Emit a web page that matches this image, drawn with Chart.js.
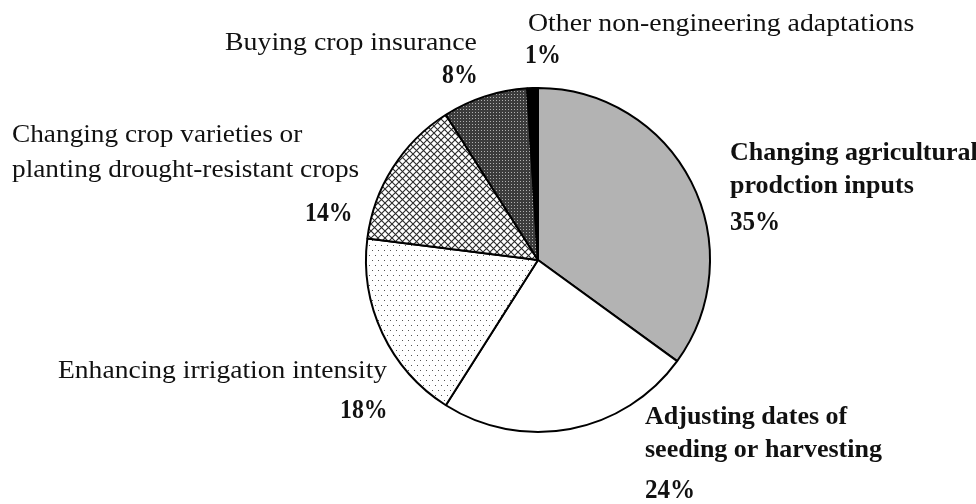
<!DOCTYPE html>
<html>
<head>
<meta charset="utf-8">
<script src="https://cdn.jsdelivr.net/npm/chart.js@4.4.1/dist/chart.umd.min.js"></script>
<style>
html,body{margin:0;padding:0;background:#fff;}
canvas{display:block;}
#probe{position:absolute;left:-9999px;top:0;font-family:"Liberation Serif";}
</style>
</head>
<body>
<span id="probe">Ag <b>Ag</b></span>
<canvas id="c" width="976" height="504"></canvas>
<script>
// ---- data ----
const categories = [
  'Changing agricultural prodction inputs',
  'Adjusting dates of seeding or harvesting',
  'Enhancing irrigation intensity',
  'Changing crop varieties or planting drought-resistant crops',
  'Buying crop insurance',
  'Other non-engineering adaptations'
];
const labelLines = [
  ['Changing agricultural', 'prodction inputs'],
  ['Adjusting dates of', 'seeding or harvesting'],
  ['Enhancing irrigation intensity'],
  ['Changing crop varieties or', 'planting drought-resistant crops'],
  ['Buying crop insurance'],
  ['Other non-engineering adaptations']
];
const values = [35, 24, 18, 14, 8, 1];

// ---- styling / layout (not data) ----
const FAM = '"Liberation Serif", "Times New Roman", Times, serif';
const labelLayout = [
  {x: 730, y: 160, lh: 33, px: 730, py: 230, font: 'bold 26px ' + FAM, sx: 1.0, pfont: 'bold 27px ' + FAM, psx: 0.93},
  {x: 645, y: 424, lh: 33, px: 645, py: 498, font: 'bold 26px ' + FAM, sx: 1.0, pfont: 'bold 27px ' + FAM, psx: 0.93},
  {x: 58,  y: 378, lh: 33, px: 340, py: 418, font: '26px ' + FAM, sx: 1.06, pfont: 'bold 28px ' + FAM, psx: 0.85},
  {x: 12,  y: 142, lh: 35, px: 305, py: 221, font: '26px ' + FAM, sx: 1.05, pfont: 'bold 28px ' + FAM, psx: 0.85},
  {x: 225, y: 50,  lh: 33, px: 442, py: 83,  font: '26px ' + FAM, sx: 1.07, pfont: 'bold 28px ' + FAM, psx: 0.85},
  {x: 528, y: 31,  lh: 33, px: 525, py: 63,  font: '26px ' + FAM, sx: 1.07, pfont: 'bold 28px ' + FAM, psx: 0.85}
];

function makePattern(w, h, draw) {
  const c = document.createElement('canvas');
  c.width = w; c.height = h;
  const g = c.getContext('2d');
  draw(g, w, h);
  return document.getElementById('c').getContext('2d').createPattern(c, 'repeat');
}
const dotPattern = makePattern(6, 10, (g, w, h) => {
  g.fillStyle = '#fff'; g.fillRect(0, 0, w, h);
  g.fillStyle = '#555';
  g.fillRect(0, 0, 1, 1);
  g.fillRect(3, 5, 1, 1);
});
const crossPattern = makePattern(7, 7, (g, w, h) => {
  g.fillStyle = '#fff'; g.fillRect(0, 0, w, h);
  g.strokeStyle = '#2a2a2a'; g.lineWidth = 1.1;
  g.beginPath();
  g.moveTo(-1, -1); g.lineTo(w + 1, h + 1);
  g.moveTo(w + 1, -1); g.lineTo(-1, h + 1);
  g.stroke();
});
const darkPattern = makePattern(3, 3, (g, w, h) => {
  g.fillStyle = '#3c3c3c'; g.fillRect(0, 0, w, h);
  g.fillStyle = '#b0b0b0'; g.fillRect(1, 1, 1, 1);
});
const fills = ['#b3b3b3', '#ffffff', dotPattern, crossPattern, darkPattern, '#000000'];

function drawScaled(ctx, text, x, y, sx) {
  ctx.save();
  ctx.translate(x, y);
  ctx.scale(sx, 1);
  ctx.fillText(text, 0, 0);
  ctx.restore();
}

const labelPlugin = {
  id: 'labels',
  afterDraw(chart) {
    const ctx = chart.ctx;
    ctx.save();
    ctx.fillStyle = '#111';
    ctx.textBaseline = 'alphabetic';
    ctx.textAlign = 'left';
    labelLines.forEach((lines, i) => {
      const L = labelLayout[i];
      ctx.font = L.font;
      lines.forEach((t, j) => drawScaled(ctx, t, L.x, L.y + j * L.lh, L.sx));
      ctx.font = L.pfont;
      drawScaled(ctx, values[i] + '%', L.px, L.py, L.psx);
    });
    ctx.restore();
  }
};

function build() {
  new Chart(document.getElementById('c'), {
    type: 'pie',
    data: {
      labels: categories,
      datasets: [{
        data: values,
        backgroundColor: fills,
        borderColor: '#000',
        borderWidth: 2,
        hoverOffset: 0
      }]
    },
    options: {
      responsive: false,
      animation: false,
      layout: {padding: {left: 365, right: 265, top: 87, bottom: 71}},
      plugins: {legend: {display: false}, tooltip: {enabled: false}}
    },
    plugins: [labelPlugin]
  });
}
Promise.all([
  document.fonts.load('25px "Liberation Serif"'),
  document.fonts.load('bold 25px "Liberation Serif"')
]).catch(() => {}).then(() => document.fonts.ready).then(build, build);
</script>
</body>
</html>
